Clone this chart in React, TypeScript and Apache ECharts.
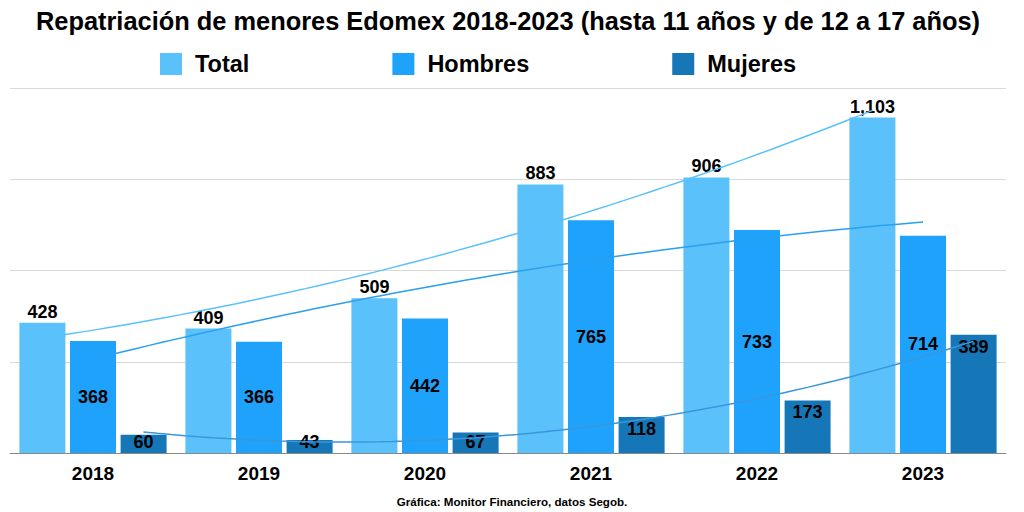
import React, { useEffect, useRef } from "react";
import * as echarts from "echarts";

const years = ["2018", "2019", "2020", "2021", "2022", "2023"];
const total = [428, 409, 509, 883, 906, 1103];
const hombres = [368, 366, 442, 765, 733, 714];
const mujeres = [60, 43, 67, 118, 173, 389];
const yTicks = [0, 300, 600, 900, 1200];

const C_TOTAL = "#5ac1fb";
const C_HOMBRES = "#1ea2fb";
const C_MUJERES = "#1577b8";

// least-squares quadratic trendline (like the original's polynomial trendline)
function quadFit(ys: number[]) {
  const n = ys.length;
  let s1 = 0, s2 = 0, s3 = 0, s4 = 0, t0 = 0, t1 = 0, t2 = 0;
  ys.forEach((y, x) => {
    s1 += x; s2 += x * x; s3 += x ** 3; s4 += x ** 4;
    t0 += y; t1 += x * y; t2 += x * x * y;
  });
  const M = [
    [n, s1, s2, t0],
    [s1, s2, s3, t1],
    [s2, s3, s4, t2],
  ];
  for (let i = 0; i < 3; i++) {
    for (let k = i + 1; k < 3; k++) {
      const f = M[k][i] / M[i][i];
      for (let j = i; j < 4; j++) M[k][j] -= f * M[i][j];
    }
  }
  const c = [0, 0, 0];
  for (let i = 2; i >= 0; i--) {
    let s = M[i][3];
    for (let j = i + 1; j < 3; j++) s -= M[i][j] * c[j];
    c[i] = s / M[i][i];
  }
  return (x: number) => c[0] + c[1] * x + c[2] * x * x;
}

function trend(ys: number[], offset: number) {
  const f = quadFit(ys);
  const pts: number[][] = [];
  const steps = 60;
  for (let i = 0; i <= steps; i++) {
    const x = (5 * i) / steps;
    pts.push([x + offset, f(x)]);
  }
  return pts;
}

export default function App() {
  const ref = useRef<HTMLDivElement>(null);
  useEffect(() => {
    if (!ref.current) return;
    const chart = echarts.init(ref.current, null, { renderer: "svg" });
    const font = "Liberation Sans, Arial, sans-serif";
    const off = 0.304;
    const labelStyle = {
      show: true,
      color: "#000",
      fontWeight: "bold" as const,
      fontSize: 18,
      fontFamily: font,
    };
    chart.setOption({
      animation: false,
      backgroundColor: "#fff",
      title: {
        text: "Repatriación de menores Edomex 2018-2023 (hasta 11 años y de 12 a 17 años)",
        left: 503,
        textAlign: "center",
        top: 3,
        textStyle: { fontFamily: font, fontWeight: "bold", fontSize: 25.4, color: "#000" },
      },
      legend: {
        top: 47,
        left: 155,
        itemWidth: 22,
        itemHeight: 22,
        itemGap: 143,
        icon: "rect",
        data: ["Total", "Hombres", "Mujeres"],
        textStyle: {
          fontFamily: font,
          fontWeight: "bold",
          fontSize: 23.5,
          color: "#000",
          padding: [0, 0, 0, 8],
        },
      },
      graphic: [
        {
          type: "text",
          left: "center",
          top: 495,
          style: {
            text: "Gráfica: Monitor Financiero, datos Segob.",
            font: `bold 11.6px ${font}`,
            fill: "#000",
          },
        },
      ],
      grid: { left: 10, right: 18, top: 88, bottom: 59, containLabel: false },
      xAxis: [
        {
          type: "category",
          data: years,
          axisLine: { lineStyle: { color: "#888", width: 1 } },
          axisTick: { show: false },
          axisLabel: {
            fontFamily: font,
            fontWeight: "bold",
            fontSize: 19,
            color: "#000",
            margin: 11,
          },
        },
        {
          type: "value",
          min: -0.5,
          max: 5.5,
          show: false,
        },
      ],
      yAxis: {
        type: "value",
        min: yTicks[0],
        max: yTicks[yTicks.length - 1],
        interval: 300,
        axisLabel: { show: false },
        axisLine: { show: false },
        axisTick: { show: false },
        splitLine: { lineStyle: { color: "#d9d9d9", width: 1 } },
      },
      series: [
        {
          name: "Total",
          type: "bar",
          data: total,
          barWidth: 46,
          barGap: "10%",
          itemStyle: { color: C_TOTAL },
          label: {
            ...labelStyle,
            position: "top",
            distance: 2,
            formatter: (p: any) => p.value.toLocaleString("en-US"),
          },
        },
        {
          name: "Hombres",
          type: "bar",
          data: hombres,
          barWidth: 46,
          barGap: "10%",
          itemStyle: { color: C_HOMBRES },
          label: { ...labelStyle, position: "inside" },
        },
        {
          name: "Mujeres",
          type: "bar",
          data: mujeres.map((v) => ({
            value: v,
            label: v < 80
              ? { position: "insideBottom", distance: 2 }
              : { position: "insideTop", distance: 3 },
          })),
          barWidth: 46,
          barGap: "10%",
          itemStyle: { color: C_MUJERES },
          label: { ...labelStyle, position: "insideTop", distance: 3 },
        },
        {
          type: "line",
          xAxisIndex: 1,
          data: trend(total, -off),
          showSymbol: false,
          silent: true,
          lineStyle: { color: C_TOTAL, width: 1.5 },
          z: 5,
        },
        {
          type: "line",
          xAxisIndex: 1,
          data: trend(hombres, 0),
          showSymbol: false,
          silent: true,
          lineStyle: { color: "#2b9ff0", width: 1.5 },
          z: 5,
        },
        {
          type: "line",
          xAxisIndex: 1,
          data: trend(mujeres, off),
          showSymbol: false,
          silent: true,
          lineStyle: { color: "#3a96dc", width: 1.5 },
          z: 5,
        },
      ],
    });
    return () => chart.dispose();
  }, []);
  return (
    <div
      ref={ref}
      style={{ position: "fixed", left: 0, top: 0, width: 1024, height: 512 }}
    />
  );
}
